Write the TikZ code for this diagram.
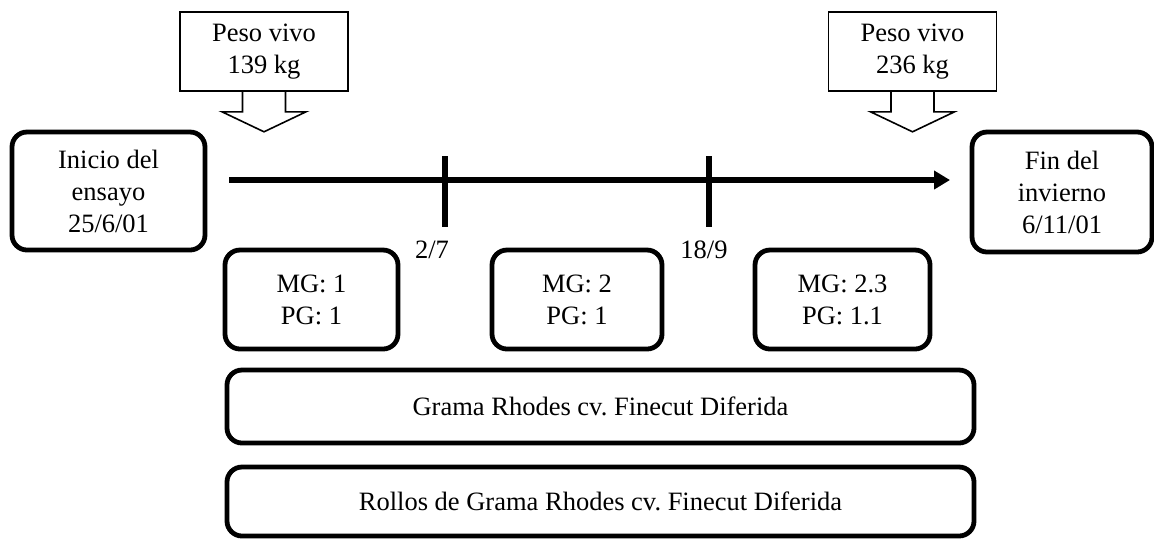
\documentclass[tikz,border=0pt]{standalone}
\usepackage{fontspec}
\setmainfont{Liberation Serif}
\usepackage{tikz}
\usetikzlibrary{positioning, arrows.meta}
\frenchspacing

\begin{document}
\begin{tikzpicture}[
    x=0.5pt, y=-0.5pt,
    font=\fontsize{13.25}{16}\selectfont,
    rbox/.style={draw, line width=2.4pt, rounded corners=7.5pt,
                 align=center, inner sep=2pt},
    pvbox/.style={draw, line width=0.8pt, align=center,
                  minimum width=84pt, minimum height=39.5pt},
    pvarr/.style={line width=0.8pt, line join=miter},
    arr/.style={-{Triangle[length=8pt, width=9pt]}, line width=2.8pt},
    tick/.style={line width=2.8pt},
  ]

  \useasboundingbox (0,0) rectangle (1154,538);

  % -- Start and end of the trial
  \node[rbox, minimum width=96.5pt, minimum height=59pt] (inicio) at (108.5,191)
    {Inicio del\\ensayo\\25/6/01};
  \node[rbox, minimum width=90pt, minimum height=60pt] (fin) at (1062,192)
    {Fin del\\invierno\\6/11/01};

  % -- Live weight callouts
  \node[pvbox] (pv1) at (264,51.5) {Peso vivo\\139 kg};
  \node[pvbox] (pv2) at (912.5,51.5) {Peso vivo\\236 kg};
  \draw[pvarr] (pv1.south) ++(-21.5,0) -- ++(0,20) -- ++(-20.5,0) -- ++(42,20)
    -- ++(42,-20) -- ++(-20.5,0) -- ++(0,-20);
  \draw[pvarr] (pv2.south) ++(-21.5,0) -- ++(0,20) -- ++(-20.5,0) -- ++(42,20)
    -- ++(42,-20) -- ++(-20.5,0) -- ++(0,-20);

  % -- Time line
  \coordinate (tl0) at (229,180);
  \coordinate (tl1) at (950,180);
  \coordinate (t1) at (445,180);
  \coordinate (t2) at (709,180);
  \draw[arr] (tl0) -- (tl1);
  \draw[tick] (t1) ++(0,-24) -- ++(0,71);
  \draw[tick] (t2) ++(0,-24) -- ++(0,71);
  \node (d1) at (432,250) {2/7};
  \node (d2) at (704,250) {18/9};

  % -- Periods
  \node[rbox, minimum width=86.5pt, minimum height=49.5pt] (mg1) at (311.5,299.5)
    {MG: 1\\PG: 1};
  \node[rbox, minimum width=85pt, minimum height=49.5pt] (mg2) at (577,299.5)
    {MG: 2\\PG: 1};
  \node[rbox, minimum width=87.5pt, minimum height=49.5pt] (mg3) at (842.5,299.5)
    {MG: 2.3\\PG: 1.1};

  % -- Forage
  \node[rbox, minimum width=373.5pt, minimum height=36.5pt] (grama) at (600.5,406.5)
    {Grama Rhodes cv. Finecut Diferida};
  \node[rbox, minimum width=373.5pt, minimum height=34.5pt] (rollos) at (600.5,501.5)
    {Rollos de Grama Rhodes cv. Finecut Diferida};

\end{tikzpicture}
\end{document}
